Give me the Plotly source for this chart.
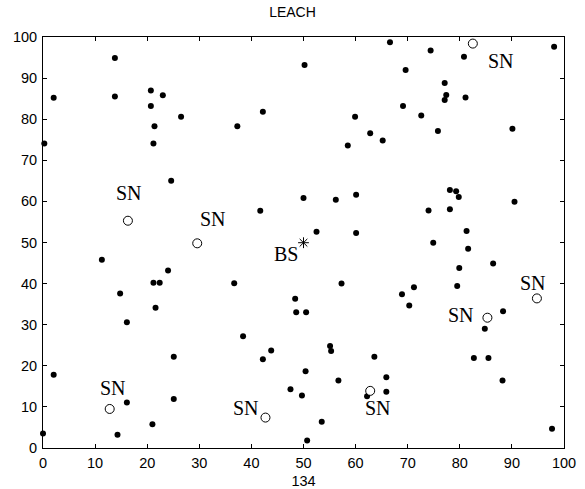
import plotly.graph_objects as go

# Ordinary sensor nodes
node_x = [13.8, 2.05, 13.8, 20.7, 23.0, 20.7, 26.5, 21.4, 37.3, 42.2, 0.25, 21.2,
          66.6, 98.1, 74.4, 80.8, 50.2, 69.6, 77.1, 77.4, 77.1, 81.1, 69.1, 72.6,
          59.9, 90.1, 62.8, 75.8, 65.2, 58.5,
          24.6, 41.7, 11.3, 24.0, 21.2, 22.4, 36.7, 14.8, 21.6, 16.1, 48.4, 48.6, 50.5,
          50.0, 56.2, 60.1, 52.5, 60.1, 57.3, 78.1, 79.3, 79.8, 74.0, 78.1, 90.5,
          81.3, 74.9, 81.6, 79.9, 86.4, 79.5, 68.9, 71.2, 70.3, 88.3, 84.8,
          38.4, 25.1, 43.8, 42.2, 2.05, 47.5, 25.1, 16.1, 21.0, 0.0, 14.3,
          55.1, 55.3, 63.6, 82.7, 85.5, 50.4, 56.7, 65.9, 88.2, 49.7, 62.2, 65.9,
          53.5, 50.7, 97.7]
node_y = [94.9, 85.2, 85.5, 87.0, 85.8, 83.2, 80.6, 78.3, 78.3, 81.8, 74.1, 74.1,
          98.7, 97.6, 96.7, 95.2, 93.2, 92.0, 88.8, 85.9, 84.7, 85.3, 83.2, 80.9,
          80.6, 77.7, 76.6, 77.1, 74.8, 73.6,
          65.0, 57.7, 45.8, 43.2, 40.2, 40.2, 40.1, 37.6, 34.1, 30.6, 36.3, 33.0, 33.0,
          60.8, 60.4, 61.6, 52.6, 52.3, 40.0, 62.8, 62.5, 61.1, 57.8, 58.1, 59.9,
          52.8, 49.95, 48.5, 43.8, 44.9, 39.4, 37.4, 39.1, 34.7, 33.3, 29.0,
          27.2, 22.2, 23.7, 21.6, 17.8, 14.3, 11.9, 11.1, 5.8, 3.5, 3.2,
          24.8, 23.6, 22.2, 21.9, 21.9, 18.7, 16.4, 17.2, 16.4, 12.8, 12.6, 13.7,
          6.4, 1.8, 4.7]

# Cluster heads (SN)
sn_x = [16.3, 29.6, 82.5, 94.8, 85.3, 12.8, 42.7, 62.8]
sn_y = [55.3, 49.8, 98.4, 36.4, 31.7, 9.5, 7.4, 13.9]
sn_text = ["SN"] * len(sn_x)

# Base station
bs_x = [50.0]
bs_y = [49.95]
bs_text = ["BS"]

# Axis ticks
tick_vals = list(range(0, 101, 10))
tick_text = [str(v) for v in tick_vals]

# label pixel offsets (layout only)
sn_shift = [(1, 28), (16, 24), (28, -17), (-4, 15), (-26, 3), (3, 21), (-19, 10), (8, -17)]
bs_shift = (-18, -11)

sans = "Liberation Sans, Arial, sans-serif"

fig = go.Figure()
fig.add_trace(go.Scatter(x=node_x, y=node_y, mode="markers",
                         marker=dict(color="black", size=6, symbol="circle"),
                         cliponaxis=False, showlegend=False))
fig.add_trace(go.Scatter(x=sn_x, y=sn_y, mode="markers",
                         marker=dict(color="white", size=9, symbol="circle",
                                     line=dict(color="black", width=1)),
                         cliponaxis=False, showlegend=False))
fig.add_trace(go.Scatter(x=bs_x, y=bs_y, mode="markers",
                         marker=dict(color="black", size=9, symbol="asterisk-open",
                                     line=dict(color="black", width=1)),
                         cliponaxis=False, showlegend=False))

serif = dict(family="Liberation Serif, Times New Roman, serif", size=20, color="black")
for x, y, t, (dx, dy) in zip(sn_x, sn_y, sn_text, sn_shift):
    fig.add_annotation(x=x, y=y, text=t, showarrow=False, xshift=dx, yshift=dy, font=serif)
fig.add_annotation(x=bs_x[0], y=bs_y[0], text=bs_text[0], showarrow=False,
                   xshift=bs_shift[0], yshift=bs_shift[1], font=serif)

axis_common = dict(range=[0, 100], tickvals=tick_vals, ticktext=tick_text,
                   ticks="inside", ticklen=4, tickwidth=1, tickcolor="black",
                   showline=True, linecolor="black", linewidth=1, mirror="ticks",
                   showgrid=False, zeroline=False, automargin=False,
                   tickfont=dict(family=sans, size=14.5, color="black"))

fig.update_layout(
    width=585, height=489,
    margin=dict(l=43, r=21, t=37, b=41),
    paper_bgcolor="white", plot_bgcolor="white",
    title=dict(text="LEACH", x=0.5, xanchor="center", y=1 - 12 / 489, yanchor="middle",
               font=dict(family=sans, size=14, color="black")),
    xaxis=dict(**axis_common, ticklabelstandoff=2,
               title=dict(text="134", standoff=5,
                          font=dict(family=sans, size=14.5, color="black"))),
    yaxis=dict(**axis_common, ticklabelstandoff=2),
)

fig.write_html("out.html")
